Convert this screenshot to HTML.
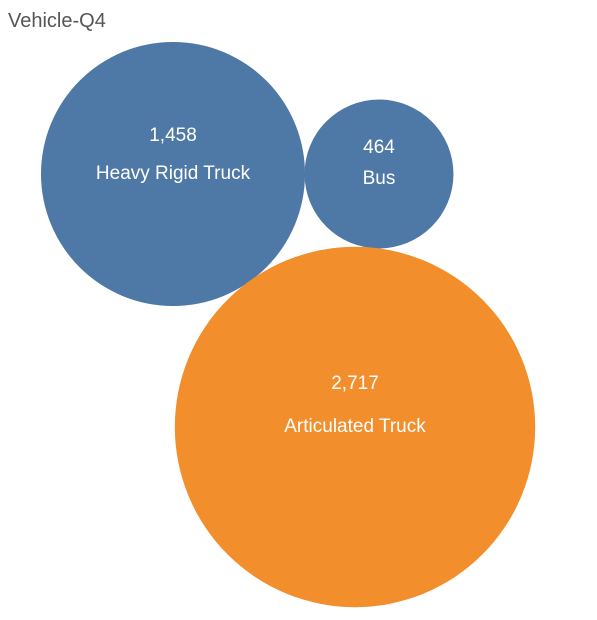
<!DOCTYPE html>
<html><head><meta charset="utf-8"><style>
body{margin:0;background:#fff;width:597px;height:615px;overflow:hidden;font-family:"Liberation Sans",sans-serif}
</style></head><body>
<svg width="597" height="615">
<text x="8" y="27" font-size="20" fill="#555">Vehicle-Q4</text>
<g id="bubbles"></g>
</svg>
<script>
const categories=["Heavy Rigid Truck","Bus","Articulated Truck"];
const values=[1458,464,2717];
const labels=["1,458","464","2,717"];
const colors=["#4e79a7","#4e79a7","#f28e2b"];
// layout: bubble centres and text offsets (not data)
const layoutCx=[173,379,355], layoutCy=[174,174,427];
const valueOff=[40,28,45], labelOff=[-2,3,-2];
const k=3.457;
const r=v=>k*Math.sqrt(v);
const g=document.getElementById('bubbles');
const ns="http://www.w3.org/2000/svg";
categories.forEach((c,i)=>{
  const R=r(values[i]);
  const ci=document.createElementNS(ns,'circle');
  
  
  ci.setAttribute('cx',layoutCx[i]);ci.setAttribute('cy',layoutCy[i]);ci.setAttribute('r',R);
  ci.setAttribute('fill',colors[i]);
  g.appendChild(ci);
  const t1=document.createElementNS(ns,'text');
  
  
  t1.setAttribute('x',layoutCx[i]);t1.setAttribute('y',layoutCy[i]-valueOff[i]+7);
  t1.setAttribute('text-anchor','middle');t1.setAttribute('fill','#fff');t1.setAttribute('font-size','19');
  t1.textContent=labels[i];g.appendChild(t1);
  const t2=document.createElementNS(ns,'text');
  
  
  t2.setAttribute('x',layoutCx[i]);t2.setAttribute('y',layoutCy[i]+labelOff[i]+7);
  t2.setAttribute('text-anchor','middle');t2.setAttribute('fill','#fff');t2.setAttribute('font-size','19');
  t2.textContent=c;g.appendChild(t2);
});
</script>
</body></html>
